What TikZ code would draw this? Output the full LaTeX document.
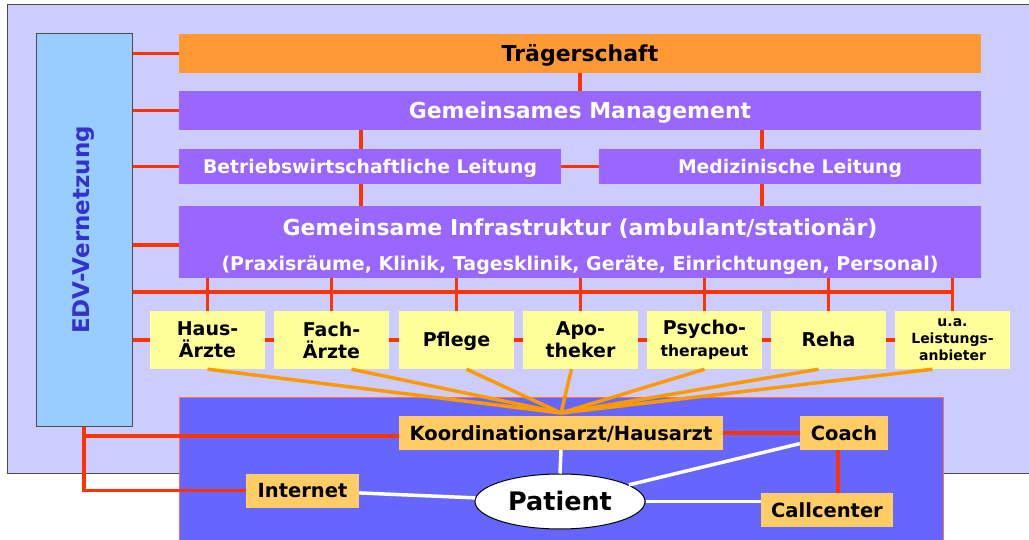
\documentclass[tikz,border=0pt]{standalone}
\usepackage{fontspec}
\setmainfont{DejaVu Sans}
\usetikzlibrary{shapes.geometric, calc}
\definecolor{lavbg}{HTML}{CCCCFF}
\definecolor{orbar}{HTML}{FF9933}
\definecolor{lila}{HTML}{9966FF}
\definecolor{gelb}{HTML}{FFFF99}
\definecolor{hellor}{HTML}{FFCC66}
\definecolor{blau}{HTML}{6666FF}
\definecolor{edvblau}{HTML}{99CCFF}
\definecolor{edvtext}{HTML}{3333CC}
\definecolor{rotlinie}{HTML}{FF3300}
\definecolor{orlinie}{HTML}{FF9900}
\tikzset{%
  bar/.style      = {rectangle, fill = lila, text = white, inner sep = 0pt,
    font = \bfseries\fontsize{22}{26}\selectfont},
  einzeilig/.style = {text height = #1, text depth = 0pt}, % caps centred
  einzeilig/.default = 16pt,
  leitung/.style  = {bar, einzeilig = 13.7pt, minimum width = 382pt, minimum height = 35pt,
    font = \bfseries\fontsize{18.8}{22}\selectfont},
  anbieter/.style = {rectangle, fill = gelb, inner sep = 0pt, align = center,
    minimum width = 115pt, minimum height = 58pt,
    font = \bfseries\fontsize{19}{22}\selectfont}, % Leistungserbringer
  stelle/.style   = {rectangle, fill = hellor, inner sep = 0pt, einzeilig = 14.2pt,
    minimum height = 34pt, font = \bfseries\fontsize{19.5}{22}\selectfont},
  rot/.style      = {draw = rotlinie, line width = 3.5pt},
  orange/.style   = {draw = orlinie, line width = 3.5pt},
  weiss/.style    = {draw = white, line width = 3.5pt}
}

\begin{document}
\begin{tikzpicture}[x = 1pt, y = -1pt]
\useasboundingbox (0,0) rectangle (1029,540);
%background
\draw[fill = lavbg, draw = black!70, line width = 1pt] (7,5) rectangle (1040,473);
\draw[fill = blau, draw = rotlinie!70, line width = 0.8pt] (179,397) rectangle (943,550);
%blocks
\node [rectangle, fill = edvblau, draw = black!70, line width = 1pt, rotate = 90,
  minimum width = 392pt, minimum height = 96pt, text = edvtext,
  font = \bfseries\fontsize{23}{26}\selectfont] (edv) at (84,230) {EDV-Vernetzung};
\node [bar, einzeilig, fill = orbar, text = black, minimum width = 802pt, minimum height = 39pt]
  (traeger) at (580,53.5) {Trägerschaft};
\node [bar, einzeilig, minimum width = 802pt, minimum height = 39pt]
  (mgmt) at (580,110.5) {Gemeinsames Management};
\node [leitung] (betrieb) at (370,166.5) {Betriebswirtschaftliche Leitung};
\node [leitung] (med) at (790,166.5) {Medizinische Leitung};
\node [bar, minimum width = 802pt, minimum height = 72pt, align = center]
  (infra) at (580,242) {\rule{0pt}{26pt}Gemeinsame Infrastruktur (ambulant/stationär)\\[9pt]
  {\fontsize{19}{22}\selectfont (Praxisräume, Klinik, Tagesklinik, Geräte, Einrichtungen, Personal)}};
%providers
\node [anbieter] (haus) at (207.5,340) {Haus-\\Ärzte};
\node [anbieter] (fach) at (331.5,340) {Fach-\\Ärzte};
\node [anbieter, einzeilig = 13.9pt] (pflege) at (456.5,340) {Pflege};
\node [anbieter] (apo) at (580.5,340) {Apo-\\theker};
\node [anbieter] (psycho) at (704.5,340) {Psycho-\\{\fontsize{15.6}{17}\selectfont therapeut}};
\node [anbieter, einzeilig = 13.9pt] (reha) at (828.5,340) {Reha};
\node [anbieter, font = \bfseries\fontsize{14}{17}\selectfont] (ua) at (952.5,340)
  {u.a.\\Leistungs-\\anbieter};
%patient side
\node [stelle, minimum width = 324pt] (koord) at (561,433) {Koordinationsarzt/Hausarzt};
\node [stelle, minimum width = 88pt] (coach) at (844,433) {Coach};
\node [stelle, minimum width = 113pt] (internet) at (302.5,490.5) {Internet};
\node [stelle, minimum width = 132pt] (callcenter) at (827,510) {Callcenter};
\node [ellipse, einzeilig = 18.6pt, fill = white, draw = black, line width = 1pt, inner sep = 0pt,
  minimum width = 170pt, minimum height = 55pt, font = \bfseries\fontsize{25.5}{28}\selectfont]
  (patient) at (560,501.5) {Patient};
\coordinate (hub) at (561,413);
\coordinate (vlinks) at (361,0);
\coordinate (vrechts) at (762,0);
%red lines
\draw[rot] (traeger.west -| edv.south) -- (traeger.west);
\draw[rot] (mgmt.west -| edv.south) -- (mgmt.west);
\draw[rot] (betrieb.west -| edv.south) -- (betrieb.west);
\draw[rot] (edv.south |- 0,245) -- (infra.west |- 0,245);
\draw[rot] (traeger.south) -- (mgmt.north);
\draw[rot] (vlinks |- mgmt.south) -- (vlinks |- betrieb.north);
\draw[rot] (vrechts |- mgmt.south) -- (vrechts |- med.north);
\draw[rot] (vlinks |- betrieb.south) -- (vlinks |- infra.north);
\draw[rot] (vrechts |- med.south) -- (vrechts |- infra.north);
\draw[rot] (betrieb.east) -- (med.west);
\draw[rot] (edv.south |- 0,292) -- (ua.north |- 0,292);
\draw[rot] (haus.north |- infra.south) -- (haus.north);
\draw[rot] (fach.north |- infra.south) -- (fach.north);
\draw[rot] (pflege.north |- infra.south) -- (pflege.north);
\draw[rot] (apo.north |- infra.south) -- (apo.north);
\draw[rot] (psycho.north |- infra.south) -- (psycho.north);
\draw[rot] (reha.north |- infra.south) -- (reha.north);
\draw[rot] (ua.north |- infra.south) -- (ua.north);
\draw[rot] (haus.west -| edv.south) -- (haus.west);
\draw[rot] (haus.east) -- (fach.west);
\draw[rot] (fach.east) -- (pflege.west);
\draw[rot] (pflege.east) -- (apo.west);
\draw[rot] (apo.east) -- (psycho.west);
\draw[rot] (psycho.east) -- (reha.west);
\draw[rot] (reha.east) -- (ua.west);
\draw[rot] (edv.west) -- (edv.west |- internet.west) -- (internet.west);
\draw[rot] (edv.west |- 0,436) -- (koord.west |- 0,436);
\draw[rot] (koord.east) -- (coach.west);
\draw[rot] ([xshift = -6pt]coach.south) -- ([xshift = -6pt]coach.south |- callcenter.north);
%orange lines
\draw[orange] (haus.south) -- (hub);
\draw[orange] ([xshift = 20pt]fach.south) -- (hub);
\draw[orange] ([xshift = 10pt]pflege.south) -- (hub);
\draw[orange] ([xshift = -9pt]apo.south) -- (hub);
\draw[orange] (psycho.south) -- (hub);
\draw[orange] ([xshift = -10pt]reha.south) -- (hub);
\draw[orange] ([xshift = -20pt]ua.south) -- (hub);
%white lines
\draw[weiss] (koord.south) -- (patient.north);
\draw[weiss] (patient) -- (coach);
\draw[weiss] (internet) -- (patient);
\draw[weiss] (patient.east) -- (patient.east -| callcenter.west);
\end{tikzpicture}
\end{document}
